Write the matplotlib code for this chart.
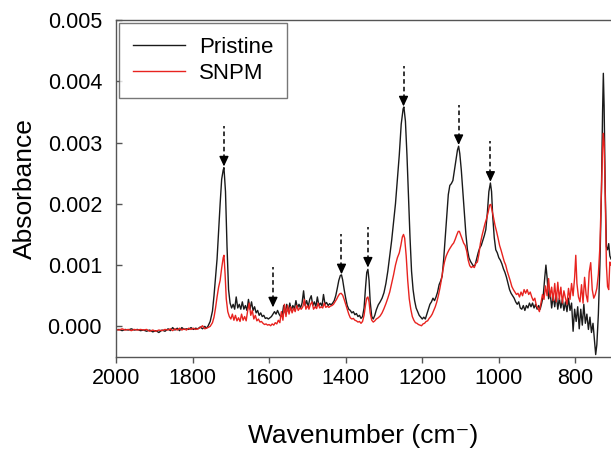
import numpy as np
import matplotlib
matplotlib.use("Agg")
import matplotlib.pyplot as plt

plt.rcParams['font.family'] = ['Liberation Sans', 'DejaVu Sans']

# Pristine spectrum (wavenumber in cm-1, absorbance in units of 1e-4)
pristine_wn = [
    2000, 1992, 1984, 1976, 1968, 1960, 1952, 1944, 1936, 1928, 1920, 1912, 1904, 1896, 1888, 1880,
    1872, 1864, 1858, 1852, 1846, 1840, 1834, 1828, 1822, 1816, 1810, 1804, 1798, 1792, 1786, 1780,
    1774, 1768, 1764, 1760, 1754, 1748, 1744, 1740, 1736, 1732, 1728, 1724, 1720, 1718, 1714, 1710,
    1706, 1702, 1698, 1694, 1690, 1686, 1682, 1678, 1674, 1670, 1666, 1662, 1658, 1654, 1650, 1646,
    1642, 1638, 1634, 1630, 1626, 1622, 1618, 1614, 1610, 1606, 1602, 1598, 1594, 1590, 1586, 1582,
    1578, 1574, 1570, 1566, 1562, 1558, 1554, 1550, 1546, 1542, 1538, 1534, 1530, 1526, 1522, 1518,
    1514, 1510, 1506, 1502, 1498, 1494, 1490, 1486, 1482, 1478, 1474, 1470, 1466, 1462, 1458, 1454,
    1450, 1446, 1442, 1438, 1434, 1430, 1426, 1422, 1418, 1414, 1411, 1408, 1404, 1400, 1396, 1392,
    1388, 1384, 1380, 1376, 1372, 1368, 1364, 1360, 1356, 1352, 1348, 1345, 1342, 1339, 1336, 1332,
    1328, 1324, 1320, 1315, 1310, 1305, 1300, 1295, 1290, 1285, 1280, 1275, 1270, 1265, 1260, 1255,
    1250, 1248, 1244, 1240, 1236, 1232, 1228, 1224, 1220, 1216, 1212, 1208, 1204, 1200, 1196, 1192,
    1188, 1184, 1180, 1176, 1172, 1168, 1164, 1160, 1156, 1152, 1148, 1144, 1140, 1136, 1132, 1128,
    1124, 1120, 1116, 1112, 1108, 1105, 1102, 1098, 1094, 1090, 1086, 1082, 1078, 1074, 1070, 1066,
    1062, 1058, 1054, 1050, 1046, 1042, 1038, 1034, 1030, 1026, 1022, 1019, 1016, 1012, 1008, 1004,
    1000, 996, 992, 988, 984, 980, 976, 972, 968, 964, 960, 956, 952, 948, 944, 940,
    936, 932, 928, 924, 920, 916, 912, 908, 904, 900, 896, 892, 888, 884, 880, 877,
    874, 870, 866, 862, 858, 854, 850, 846, 842, 838, 834, 830, 826, 822, 818, 814,
    810, 806, 802, 798, 794, 790, 786, 782, 778, 774, 770, 766, 762, 758, 754, 750,
    747, 744, 740, 736, 732, 729, 727, 725, 722, 719, 716, 713, 710, 707,
]
pristine_abs = [
    -0.6, -0.5, -0.7, -0.5, -0.6, -0.4, -0.6, -0.5, -0.7, -0.6, -0.8, -0.6, -0.9, -0.7, -1.0, -0.6,
    -0.8, -0.4, -0.7, -0.2, -0.6, -0.3, -0.7, -0.2, -0.5, -0.4, -0.5, -0.2, -0.5, -0.3, -0.4, -0.1,
    -0.4, 0.0, -0.3, 0.0, 0.8, 2.5, 5.0, 8.0, 11.0, 15.5, 20.0, 24.0, 25.5, 25.9, 22.0, 13.0,
    6.0, 3.8, 3.0, 3.6, 2.8, 4.8, 3.0, 3.6, 2.8, 4.0, 2.8, 3.4, 2.6, 4.4, 2.8, 4.0,
    2.6, 3.2, 2.2, 2.6, 1.8, 2.2, 1.6, 1.8, 1.3, 1.4, 1.2, 1.4, 1.6, 2.0, 2.4, 2.0,
    2.6, 2.0, 1.6, 1.8, 3.4, 2.2, 3.6, 2.4, 3.8, 2.6, 3.4, 2.8, 4.2, 3.0, 3.6, 3.0,
    3.8, 5.8, 3.4, 4.2, 3.2, 4.4, 5.0, 3.4, 4.0, 3.2, 4.8, 3.4, 3.8, 3.3, 5.2, 3.6,
    3.9, 3.4, 3.7, 3.5, 3.8, 4.2, 5.0, 6.2, 7.5, 8.3, 8.4, 7.6, 6.0, 4.6, 3.4, 2.8,
    2.6, 2.2, 2.4, 1.9, 2.1, 1.6, 1.8, 1.3, 1.6, 3.0, 6.5, 8.8, 9.3, 7.5, 4.0, 1.6,
    1.2, 1.8, 2.7, 3.5, 4.0, 4.6, 5.5, 7.0, 9.0, 11.5, 14.0, 17.0, 20.0, 24.0, 28.0, 33.0,
    35.5, 35.8, 33.5, 28.0, 21.0, 14.5, 9.0, 6.0, 4.2, 3.0, 2.4, 1.8, 1.5, 1.2, 1.5, 1.2,
    2.0, 2.8, 3.6, 4.0, 4.6, 4.2, 4.8, 5.6, 6.8, 7.4, 8.2, 11.0, 14.5, 18.0, 21.5, 23.0,
    23.3, 23.8, 25.5, 27.2, 28.8, 29.4, 28.2, 25.5, 22.0, 18.5, 15.0, 12.5, 11.2, 10.6, 10.2, 9.8,
    10.0, 11.0, 12.0, 12.8, 13.2, 14.0, 14.8, 15.8, 18.5, 22.0, 23.4, 22.0, 18.0, 14.5, 12.5, 12.0,
    11.2, 10.8, 10.2, 9.4, 8.8, 8.0, 7.0, 6.0, 5.4, 5.0, 4.6, 4.0, 3.6, 4.0, 3.0, 2.8,
    3.4, 2.6, 3.4, 3.0, 3.8, 3.2, 3.8, 3.0, 3.6, 2.8, 3.4, 2.8, 3.8, 5.0, 8.0, 10.0,
    8.0, 4.5, 5.6, 3.0, 5.0, 3.2, 5.2, 2.8, 4.6, 3.0, 4.4, 2.6, 4.0, 2.4, 4.6, 2.6,
    3.8, -0.8, 2.8, 0.8, 3.2, -0.4, 2.8, 0.2, 3.6, 0.5, 2.0, -0.5, 1.5, -1.0, 0.5, -2.5,
    -4.6, -3.0, 2.0, 10.0, 22.0, 35.0, 41.3, 36.0, 22.0, 13.0, 12.5, 13.5, 11.5, 11.0,
]

# SNPM spectrum
snpm_wn = [
    2000, 1992, 1984, 1976, 1968, 1960, 1952, 1944, 1936, 1928, 1920, 1912, 1904, 1896, 1888, 1880,
    1872, 1864, 1858, 1852, 1846, 1840, 1834, 1828, 1822, 1816, 1810, 1804, 1798, 1792, 1786, 1780,
    1774, 1768, 1764, 1760, 1754, 1748, 1744, 1740, 1736, 1732, 1728, 1724, 1720, 1718, 1715, 1712,
    1708, 1704, 1700, 1696, 1692, 1688, 1684, 1680, 1676, 1672, 1668, 1664, 1660, 1656, 1652, 1648,
    1644, 1640, 1636, 1632, 1628, 1624, 1620, 1616, 1612, 1608, 1604, 1600, 1596, 1592, 1588, 1584,
    1580, 1576, 1572, 1568, 1564, 1560, 1556, 1552, 1548, 1544, 1540, 1536, 1532, 1528, 1524, 1520,
    1516, 1512, 1508, 1504, 1500, 1496, 1492, 1488, 1484, 1480, 1476, 1472, 1468, 1464, 1460, 1456,
    1452, 1448, 1444, 1440, 1436, 1432, 1428, 1424, 1420, 1416, 1412, 1408, 1404, 1400, 1396, 1392,
    1388, 1384, 1380, 1376, 1372, 1368, 1364, 1360, 1356, 1352, 1348, 1345, 1342, 1339, 1336, 1332,
    1328, 1324, 1320, 1315, 1310, 1305, 1300, 1295, 1290, 1285, 1280, 1275, 1270, 1265, 1260, 1256,
    1252, 1249, 1246, 1242, 1238, 1234, 1230, 1226, 1222, 1218, 1214, 1210, 1206, 1202, 1198, 1194,
    1190, 1186, 1182, 1178, 1174, 1170, 1166, 1162, 1158, 1154, 1150, 1146, 1142, 1138, 1134, 1130,
    1126, 1122, 1118, 1114, 1110, 1106, 1103, 1100, 1096, 1092, 1088, 1084, 1080, 1076, 1072, 1068,
    1064, 1060, 1056, 1052, 1048, 1044, 1040, 1036, 1032, 1028, 1024, 1021, 1018, 1014, 1010, 1006,
    1002, 998, 994, 990, 986, 982, 978, 974, 970, 966, 962, 958, 954, 950, 946, 942,
    938, 934, 930, 926, 922, 918, 914, 910, 906, 902, 898, 894, 890, 886, 882, 878,
    874, 870, 866, 862, 858, 854, 850, 846, 842, 838, 834, 830, 826, 822, 818, 814,
    810, 806, 802, 799, 796, 792, 788, 784, 780, 776, 772, 768, 764, 760, 756, 752,
    748, 744, 740, 736, 732, 729, 727, 725, 722, 719, 716, 713, 710, 707,
]
snpm_abs = [
    -0.5, -0.6, -0.4, -0.6, -0.5, -0.7, -0.5, -0.6, -0.5, -0.6, -0.5, -0.8, -0.6, -0.8, -0.6, -0.7,
    -0.5, -0.6, -0.4, -0.7, -0.4, -0.6, -0.3, -0.6, -0.4, -0.6, -0.3, -0.5, -0.3, -0.5, -0.4, -0.2,
    0.1, -0.4, -0.3, -0.2, 0.0, 0.6, 1.5, 3.0, 4.8, 6.4, 7.5, 9.5, 11.2, 11.6, 8.5, 4.5,
    2.4, 1.6, 1.2, 2.0, 1.0, 1.8, 0.9, 1.4, 0.8, 2.0, 1.0, 1.6, 0.9, 2.6, 3.8, 1.8,
    2.6, 1.2, 1.8, 0.9, 1.2, 0.7, 0.8, 0.5, 0.3, 0.4, 0.2, 0.3, 0.1, 0.4, 0.2, 0.6,
    0.4, 1.0, 0.6, 2.4, 1.0, 3.6, 1.6, 3.4, 2.0, 3.2, 2.2, 3.0, 2.4, 3.4, 2.6, 3.0,
    2.8, 3.2, 4.4, 2.8, 3.4, 2.8, 3.6, 4.0, 2.8, 3.2, 2.9, 3.8, 3.0, 3.2, 3.0, 3.8,
    3.1, 3.3, 3.1, 3.3, 3.4, 3.6, 4.0, 4.4, 4.9, 5.3, 5.4, 5.1, 4.4, 3.6, 2.8, 2.0,
    1.4, 1.2, 1.3, 1.0, 0.9, 0.7, 0.8, 0.5, 0.8, 1.8, 3.6, 4.6, 4.8, 4.0, 2.2, 1.0,
    0.7, 0.9, 1.2, 1.4, 1.7, 2.2, 2.9, 3.7, 4.6, 5.6, 7.0, 8.4, 10.0, 11.2, 12.0, 13.2,
    14.6, 15.0, 14.4, 11.5, 7.5, 4.5, 2.8, 1.6, 1.0, 0.6, 0.5, 0.3, 0.2, 0.1, 0.4, 0.5,
    0.8, 0.9, 1.3, 1.6, 2.0, 2.6, 3.2, 4.0, 5.0, 6.2, 7.6, 9.2, 10.5, 11.4, 12.0, 12.5,
    12.9, 13.3, 13.6, 14.2, 14.9, 15.5, 15.5, 15.0, 14.3, 13.6, 13.2, 12.3, 10.8, 9.9, 9.6, 9.8,
    9.6, 10.3, 10.5, 11.8, 13.6, 14.8, 15.8, 16.8, 17.6, 18.6, 19.8, 19.9, 19.0, 17.8, 16.5, 15.5,
    14.4, 13.2, 12.4, 11.5, 10.6, 10.0, 9.0, 8.2, 7.4, 6.5, 6.0, 5.6, 5.2, 5.4, 4.8, 5.6,
    5.0, 6.0, 5.4, 6.0, 5.2, 5.6, 4.8, 4.2, 4.6, 3.4, 3.0, 2.4, 3.8, 5.2, 4.4, 6.6,
    5.0, 7.8, 4.8, 6.4, 4.2, 7.0, 4.0, 7.2, 4.4, 6.4, 3.8, 5.8, 4.6, 3.6, 6.2, 4.4,
    7.0, 5.0, 8.0, 11.6, 7.0, 4.8, 4.0, 6.8, 3.8, 8.0, 5.2, 4.0, 8.8, 10.4, 6.0, 4.6,
    5.2, 6.2, 8.5, 13.0, 22.0, 29.0, 31.5, 30.0, 21.0, 10.0, 6.5, 6.0, 10.5, 10.0,
]

# marked bands: wavenumber and arrow tip absorbance
arrow_wn = [1718, 1590, 1411, 1342, 1249, 1105, 1022]
arrow_tip = [0.00261, 0.00031, 0.00085, 0.00096, 0.00359, 0.00296, 0.00236]

fig = plt.figure(figsize=(6.11, 4.5), dpi=100)
ax = fig.add_axes([116 / 611, 1 - 357 / 450, 1 - 116 / 611, (357 - 20) / 450])

ax.plot(pristine_wn, np.array(pristine_abs) * 1e-4, color='#1a1a1a', lw=1.0, label='Pristine')
ax.plot(snpm_wn, np.array(snpm_abs) * 1e-4, color='#e8231f', lw=1.0, label='SNPM')

# dashed arrows above the peaks
for wn, tip in zip(arrow_wn, arrow_tip):
    ax.plot([wn, wn], [tip + 0.00012, tip + 0.00066], color='k', lw=1.1, ls=(0, (3, 2)))
    ax.annotate('', xy=(wn, tip), xytext=(0, 6), textcoords='offset points',
                arrowprops=dict(arrowstyle='-|>,head_length=0.3,head_width=0.14',
                                color='k', lw=1, shrinkA=0, shrinkB=0, mutation_scale=20))

ax.set_xlim(2000, 707)
ax.set_ylim(-0.0005, 0.005)
ax.set_xticks([2000, 1800, 1600, 1400, 1200, 1000, 800])
ax.set_yticks([0, 0.001, 0.002, 0.003, 0.004, 0.005])
ax.set_yticklabels(['0.000', '0.001', '0.002', '0.003', '0.004', '0.005'])

for s in ['left', 'top', 'bottom']:
    ax.spines[s].set_color('#555555')
    ax.spines[s].set_linewidth(1.0)
ax.spines['right'].set_visible(False)

ax.tick_params(axis='y', direction='in', length=4.5, width=1, color='#555555', pad=10, labelsize=15.5)
ax.tick_params(axis='x', direction='out', length=4.5, width=1, color='#555555', pad=3.5, labelsize=15.5)

ax.set_xlabel('Wavenumber (cm\u207b)', fontsize=19, labelpad=25)
ax.set_ylabel('Absorbance', fontsize=19, labelpad=8)

leg = ax.legend(loc='upper left', fontsize=16, frameon=True, fancybox=False,
                borderaxespad=0.15, borderpad=0.6, labelspacing=0.25,
                handlelength=2.35, handletextpad=0.65)
leg.get_frame().set_edgecolor('#555555')
leg.get_frame().set_linewidth(1.0)

fig.savefig('out.png', dpi=100)
